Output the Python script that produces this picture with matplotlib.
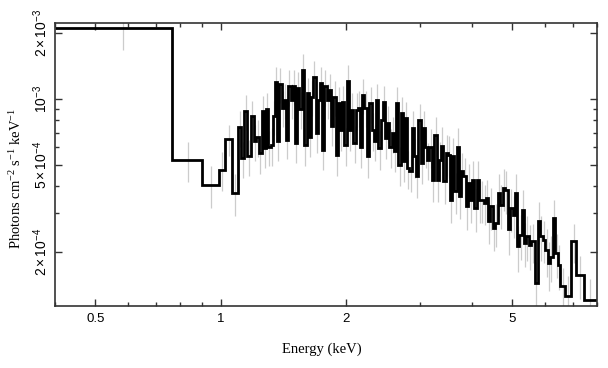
import matplotlib
matplotlib.use("Agg")
import matplotlib.pyplot as plt
import matplotlib.ticker as mticker
import numpy as np

# bin edges (keV)
edges = [0.400, 0.764, 0.902, 0.989, 1.026, 1.061, 1.100, 1.121,
         1.136, 1.157, 1.179, 1.200, 1.218, 1.236, 1.253, 1.269, 1.283, 1.299,
         1.317, 1.331, 1.348, 1.366, 1.381, 1.399, 1.417, 1.433, 1.451, 1.471,
         1.487, 1.506, 1.526, 1.543, 1.568,
         1.586, 1.607, 1.628, 1.646, 1.667, 1.689, 1.708, 1.730, 1.752, 1.771,
         1.795, 1.818, 1.838, 1.862, 1.887, 1.908, 1.932, 1.957, 1.979, 2.005,
         2.031, 2.053, 2.080, 2.108, 2.131, 2.158, 2.186, 2.210, 2.247,
         2.272, 2.303, 2.332, 2.358, 2.388, 2.420, 2.447, 2.479, 2.510, 2.538,
         2.572, 2.605, 2.634, 2.668, 2.704, 2.734, 2.769, 2.804, 2.835, 2.873,
         2.910, 2.943, 2.980, 3.020, 3.054, 3.093, 3.132, 3.167, 3.220,
         3.256, 3.300, 3.342, 3.379, 3.423, 3.468, 3.507, 3.552, 3.597, 3.638,
         3.686, 3.733, 3.775, 3.823, 3.874, 3.917, 3.968, 4.018, 4.063, 4.117,
         4.170, 4.217, 4.271, 4.328, 4.376, 4.432, 4.489, 4.539, 4.626,
         4.685, 4.745, 4.816, 4.878, 4.951, 5.015, 5.070, 5.138, 5.204, 5.283,
         5.350, 5.410, 5.479, 5.552, 5.664, 5.772, 5.846, 5.921, 6.010, 6.100,
         6.178, 6.258, 6.352, 6.447, 6.530, 6.713, 6.940, 7.123, 7.429, 8.000]

# flux per bin, units of 1e-4 photons cm^-2 s^-1 keV^-1
flux_e4 = [21.0, 5.27, 4.05, 4.74, 6.55, 3.71, 7.4,
           5.35, 8.8, 5.45, 8.3, 6.4, 6.7, 5.65, 8.75, 5.95, 8.97, 6.05, 6.15,
           8.3, 11.9, 6.4, 11.7, 9.1, 9.9, 6.5, 11.4, 9.9, 11.5, 6.3, 11.2, 9.0,
           13.6, 6.15, 10.6, 6.7, 10.2, 12.6, 6.97, 9.9, 11.8, 5.85, 11.4, 9.9,
           11.0, 7.5, 10.2, 5.55, 9.55, 7.2, 9.7, 6.15, 12.1, 7.2, 8.9, 6.3,
           8.9, 9.1, 6.05, 10.4, 9.1,
           5.45, 9.55, 7.2, 6.4, 9.9, 5.95, 8.0, 9.7, 6.6, 7.75, 6.05, 6.97,
           5.75, 9.55, 5.0, 8.6, 5.17, 8.15, 4.83, 4.66, 7.35, 5.45, 4.42, 8.0,
           5.1, 7.35, 6.05, 5.27, 6.05,
           4.27, 6.85, 4.27, 5.27, 6.1, 4.2, 5.65, 5.55, 3.45, 5.45, 3.78, 6.05,
           3.58, 4.66, 4.42, 3.22, 4.12, 3.45, 4.27, 3.17, 4.27, 3.45, 3.45,
           3.34, 3.52, 2.76, 3.22, 2.57, 2.7,
           3.71, 3.28, 3.91, 3.84, 2.53, 3.17, 2.95, 3.71, 2.12, 2.39, 3.11,
           2.2, 2.36, 2.15, 2.23, 1.44, 2.76, 2.36, 2.27, 2.04, 1.77, 1.9,
           2.86, 1.97, 1.74, 1.39, 1.25, 2.23, 1.57, 1.2]

# 1-sigma errors, same units
err_e4 = [4.3, 1.1, 0.87, 0.95, 1.05, 0.8, 1.4,
          1.0, 1.6, 1.0, 1.5, 1.2, 1.3, 1.1, 1.6, 1.1, 1.7, 1.1, 1.2,
          1.5, 2.1, 1.2, 2.1, 1.7, 1.8, 1.2, 2.1, 1.8, 2.1, 1.2, 2.0, 1.7,
          2.4, 1.2, 1.9, 1.3, 1.9, 2.3, 1.3, 1.8, 2.1, 1.1, 2.1, 1.8,
          2.0, 1.4, 1.9, 1.1, 1.8, 1.4, 1.8, 1.2, 2.2, 1.4, 1.7, 1.2,
          1.7, 1.7, 1.2, 1.9, 1.7,
          1.1, 1.8, 1.4, 1.2, 1.8, 1.2, 1.5, 1.8, 1.3, 1.5, 1.2, 1.3,
          1.1, 1.8, 1.0, 1.6, 1.0, 1.5, 0.95, 0.9, 1.4, 1.1, 0.9, 1.5,
          1.0, 1.4, 1.2, 1.0, 1.2,
          0.9, 1.4, 0.9, 1.1, 1.3, 0.9, 1.2, 1.2, 0.75, 1.15, 0.8, 1.3,
          0.75, 1.0, 0.95, 0.7, 0.9, 0.75, 0.9, 0.7, 0.9, 0.75, 0.75,
          0.7, 0.75, 0.6, 0.7, 0.55, 0.6,
          0.8, 0.75, 0.85, 0.85, 0.6, 0.7, 0.65, 0.8, 0.5, 0.55, 0.7,
          0.5, 0.55, 0.5, 0.45, 0.35, 0.6, 0.55, 0.5, 0.5, 0.45, 0.45,
          0.6, 0.45, 0.4, 0.3, 0.3, 0.45, 0.35, 0.3]

x_ticks = [0.5, 1, 2, 5]
x_ticklabels = ["0.5", "1", "2", "5"]
x_minor = [0.4, 0.6, 0.7, 0.8, 0.9, 3, 4, 6, 7, 8]
y_ticks = [2e-4, 5e-4, 1e-3, 2e-3]
y_ticklabels = [r"$\mathsf{2\times10^{-4}}$", r"$\mathsf{5\times10^{-4}}$",
                r"$\mathsf{10^{-3}}$", r"$\mathsf{2\times10^{-3}}$"]
y_minor = [3e-4, 4e-4, 6e-4, 7e-4, 8e-4, 9e-4]

plt.rcParams['mathtext.fontset'] = 'custom'
plt.rcParams['mathtext.rm'] = 'Liberation Serif'
plt.rcParams['mathtext.it'] = 'Liberation Serif:italic'
plt.rcParams['mathtext.sf'] = 'Liberation Sans'

edges = np.array(edges)
flux = np.array(flux_e4) * 1e-4
err = np.array(err_e4) * 1e-4
centers = 0.5 * (edges[:-1] + edges[1:])

fig = plt.figure(figsize=(6.08, 3.68), dpi=100)
ax = fig.add_axes([0.0905, 0.1685, 0.8915, 0.769])

ax.errorbar(centers, flux, yerr=err, fmt='none', ecolor='#cccccc',
            elinewidth=0.9, zorder=1)
ax.stairs(flux, edges, baseline=None, color='black', linewidth=2.0, zorder=2)

ax.set_xscale('log')
ax.set_yscale('log')
ax.set_xlim(0.4, 8.0)
ax.set_ylim(1.13e-4, 2.22e-3)

ax.xaxis.set_major_locator(mticker.FixedLocator(x_ticks))
ax.xaxis.set_major_formatter(mticker.FixedFormatter(x_ticklabels))
ax.xaxis.set_minor_locator(mticker.FixedLocator(x_minor))
ax.xaxis.set_minor_formatter(mticker.NullFormatter())
ax.yaxis.set_major_locator(mticker.FixedLocator(y_ticks))
ax.yaxis.set_major_formatter(mticker.FixedFormatter(y_ticklabels))
ax.yaxis.set_minor_locator(mticker.FixedLocator(y_minor))
ax.yaxis.set_minor_formatter(mticker.NullFormatter())

ax.tick_params(which='both', direction='in', top=True, right=True,
               color='#333333', width=1.0)
ax.tick_params(which='major', length=5)
ax.tick_params(which='minor', length=3)
ax.tick_params(axis='x', pad=5, labelsize=9.5)
ax.tick_params(axis='y', pad=3.5, labelsize=10, labelrotation=90)
for lab in ax.get_yticklabels():
    lab.set_verticalalignment('center')
for lab in ax.get_xticklabels():
    lab.set_fontfamily('Liberation Sans')

for sp in ax.spines.values():
    sp.set_linewidth(1.2)
    sp.set_color('#333333')

ax.set_xlabel("Energy (keV)", fontfamily='Liberation Serif', fontsize=10.5)
ax.set_ylabel(r"Photons cm$^{-2}$ s$^{-1}$ keV$^{-1}$",
              fontfamily='Liberation Serif', fontsize=10.5)
ax.xaxis.set_label_coords(0.492, -0.13)
ax.yaxis.set_label_coords(-0.058, 0.45)

fig.savefig("out.png", dpi=100)
